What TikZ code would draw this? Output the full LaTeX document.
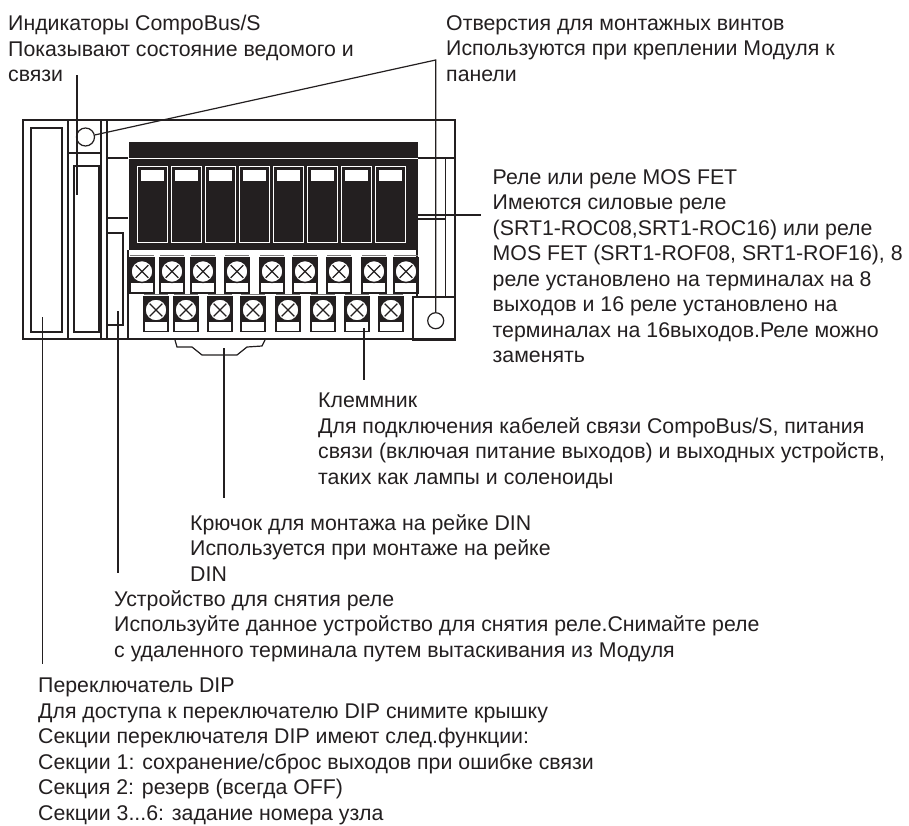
\documentclass[tikz,border=0pt]{standalone}
\usepackage{fontspec}
\setmainfont{Liberation Sans}
\definecolor{ink}{HTML}{231F20}
\definecolor{txt}{HTML}{231F20}
\tikzset{
  x=1pt,y=-1pt,
  lbl/.style={anchor=north west,inner sep=0pt,align=left,text=txt,font=\fontsize{21.3}{25.5}\selectfont},
  body/.style={draw=ink,line width=1.2pt,line join=miter},
  leader/.style={draw=ink,line width=1.2pt},
  relaybox/.style={draw=white,line width=1pt,fill=ink},
  screw/.style={circle,draw=ink,line width=1.4pt,fill=white,minimum size=22pt,inner sep=0pt,
     path picture={\draw[ink,line width=1.3pt] (path picture bounding box.center)+(-6.3,-6.3)--+(6.3,6.3) (path picture bounding box.center)+(-6.3,6.3)--+(6.3,-6.3);}},
  hole/.style={circle,draw=ink,line width=1.2pt,fill=white,inner sep=0pt},
}
\newcommand{\fst}{\rule{0pt}{14pt}}
% terminal at left x, top y
\newcommand{\terminal}[3]{%
  \draw[ink!60,line width=.8pt] (#1,#2)--++(24,0);
  \draw[draw=ink,line width=1.2pt] (#1,#2+2.5) rectangle ++(24,35);
  \draw[ink,line width=1.2pt] (#1,#2+27)--++(24,0);
  \fill[ink] (#1,#2+2.5) rectangle ++(24,24.5);
  \node[screw] (#3) at (#1+12,#2+16) {};
}
\begin{document}
\begin{tikzpicture}
\useasboundingbox (0,0) rectangle (909,825);
\fill[white] (0,0) rectangle (909,825);
% housing
\draw[body] (23,120) rectangle (455,339);
\draw[body] (31,128) rectangle (62,332);
\draw[body] (68,120) rectangle (101,339);
\draw[body] (68,153) -- (101,153);
\draw[body] (74,166) rectangle (99,332);
\draw[body] (107,120) -- (107,339);
\draw[body] (107,158) -- (128,158);
\draw[body] (107,218) -- (128,218);
\draw[body] (107,233) -- (123,233) -- (123,325) -- (107,325);
\draw[body] (128,250) -- (128,339);
\draw[body] (417,250) -- (417,297);
\draw[body] (417,158) -- (455,158);
\draw[body] (417,219) -- (445.5,219);
\draw[body] (445.5,158) -- (445.5,297);
\draw[body,line width=1.4pt] (413,297) rectangle (455,340);
\node[hole,minimum size=16pt] (hole2) at (435.7,320.7) {};
\node[hole,minimum size=18pt] (hole1) at (85.5,137) {};
% relay block
\fill[ink] (128.5,142) rectangle (417.5,250);
\draw[white,line width=1pt] (128.5,158) -- (417.5,158);
\foreach \i in {0,...,7}{
  \draw[relaybox] ({137+34*\i},166) rectangle ++(30.5,76);
  \fill[white] ({141+34*\i},170) rectangle ++(23,11);
}
% terminals
\foreach \x [count=\n] in {130,160,191,225,260,293,327,362,394}{\terminal{\x}{255.5}{t\n}}
\foreach \x [count=\n] in {144,174,208,241,276,311,345,379}{\terminal{\x}{294}{b\n}}
% hook
\draw[body] (175,340) -- (177,347) -- (192,347) -- (202,355) -- (237,355) -- (247,347) -- (262,346) -- (265,340);
% labels
\node[lbl] (ind) at (8,15) {\fst Индикаторы CompoBus/S\\Показывают состояние ведомого и\\связи};
\node[lbl] (holes) at (446,15) {\fst Отверстия для монтажных винтов\\Используются при креплении Модуля к\\панели};
\node[lbl] (rel) at (492.5,169) {\fst Реле или реле MOS FET\\Имеются силовые реле\\(SRT1-ROC08,SRT1-ROC16) или реле\\MOS FET (SRT1-ROF08, SRT1-ROF16), 8\\реле установлено на терминалах на 8\\выходов и 16 реле установлено на\\терминалах на 16выходов.Реле можно\\заменять};
\node[lbl] (term) at (318,392.7) {\fst Клеммник\\Для подключения кабелей связи CompoBus/S, питания\\связи (включая питание выходов) и выходных устройств,\\таких как лампы и соленоиды};
\node[lbl] (din) at (190,514) {\fst Крючок для монтажа на рейке DIN\\Используется при монтаже на рейке\\DIN};
\node[lbl] (rem) at (114,590) {\fst Устройство для снятия реле\\Используйте данное устройство для снятия реле.Снимайте реле\\с удаленного терминала путем вытаскивания из Модуля};
\node[lbl] (dip) at (38,678) {\fst Переключатель DIP\\Для доступа к переключателю DIP снимите крышку\\Секции переключателя DIP имеют след.функции:\\Секции 1: сохранение/сброс выходов при ошибке связи\\Секция 2: резерв (всегда OFF)\\Секции 3...6: задание номера узла};
% leaders
\coordinate (indtop) at (77,75);
\coordinate (indend) at (77,195);
\draw[leader] (indtop) -- (indend);
\coordinate (hk) at (435.7,60);
\draw[leader] (hole1) -- (hk) -- (hole2);
\coordinate (relend) at (481,215);
\coordinate (relstart) at (417.5,215);
\draw[leader] (relstart) -- (relend);
\coordinate (termtop) at (364,328);
\coordinate (termend) at (364,380);
\draw[leader] (termtop) -- (termend);
\coordinate (hooktop) at (224,348);
\coordinate (hookend) at (224,498);
\draw[leader] (hooktop) -- (hookend);
\coordinate (remtop) at (118,311);
\coordinate (remend) at (118,573);
\draw[leader] (remtop) -- (remend);
\coordinate (diptop) at (42.5,317);
\coordinate (dipend) at (42.5,664);
\draw[leader] (diptop) -- (dipend);
\end{tikzpicture}
\end{document}
